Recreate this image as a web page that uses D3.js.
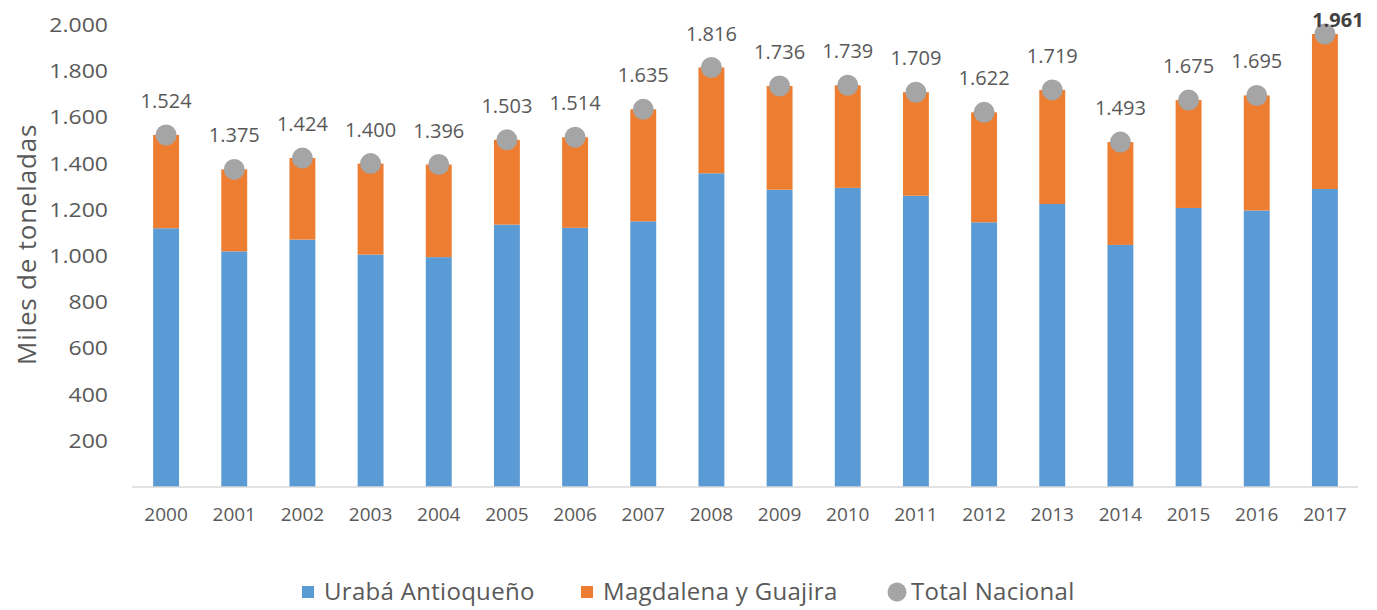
<!DOCTYPE html>
<html>
<head>
<meta charset="utf-8">
<script src="https://cdn.jsdelivr.net/npm/d3@7"></script>
<style>
  body { margin: 0; background: #fff; }
  svg { display: block; font-family: "Open Sans", "Noto Sans", sans-serif; }
  .tick-label { fill: #595959; font-size: 20px; }
  .value-label { font-size: 20px; }
</style>
</head>
<body>
<svg id="chart" width="1377" height="610"></svg>
<script>
const years = ["2000", "2001", "2002", "2003", "2004", "2005", "2006", "2007", "2008",
  "2009", "2010", "2011", "2012", "2013", "2014", "2015", "2016", "2017"];
// Urabá Antioqueño (miles de toneladas)
const uraba = [1120, 1020, 1071, 1006, 995, 1136, 1122, 1150, 1358,
  1287, 1295, 1261, 1146, 1225, 1048, 1208, 1197, 1290];
// Total Nacional, from the labels
const totals = [1524, 1375, 1424, 1400, 1396, 1503, 1514, 1635, 1816,
  1736, 1739, 1709, 1622, 1719, 1493, 1675, 1695, 1961];
// Magdalena y Guajira = rest of the total
const magdalena = totals.map((t, i) => t - uraba[i]);
const yTicks = [200, 400, 600, 800, 1000, 1200, 1400, 1600, 1800, 2000];
const highlightYear = "2017";

const COLORS = { uraba: "#5B9BD5", magdalena: "#ED7D31", total: "#A5A5A5" };

const svg = d3.select("#chart");

const x = d3
  .scaleBand()
  .domain(years)
  .range([132, 1359])
  .paddingInner(0.62)
  .paddingOuter(0.31);

const y = d3.scaleLinear().domain([0, 2000]).range([487, 25]);

const fmt = (v) => d3.format(",")(v).replace(/,/g, ".");

// y tick labels (no axis line, no gridlines); the source text is a bit wide
svg
  .append("g")
  .selectAll("text")
  .data(yTicks)
  .join("text")
  .attr("class", "tick-label")
  .attr("transform", (d) => `translate(108, ${y(d)}) scale(1.15, 1)`)
  .attr("dy", "0.35em")
  .attr("text-anchor", "end")
  .text(fmt);

svg
  .append("text")
  .attr("transform", `translate(36, ${y(1050)}) rotate(-90)`)
  .attr("text-anchor", "middle")
  .attr("fill", "#595959")
  .attr("font-size", 26)
  .attr("letter-spacing", 0.8)
  .text("Miles de toneladas");

const stackData = years.map((yr, i) => ({ year: yr, uraba: uraba[i], magdalena: magdalena[i] }));
const series = d3.stack().keys(["uraba", "magdalena"])(stackData);

svg
  .append("g")
  .selectAll("g")
  .data(series)
  .join("g")
  .attr("fill", (s) => COLORS[s.key])
  .selectAll("rect")
  .data((s) => s)
  .join("rect")
  .attr("x", (d) => x(d.data.year))
  .attr("width", x.bandwidth())
  .attr("y", (d) => y(d[1]))
  .attr("height", (d) => y(d[0]) - y(d[1]));

// x axis line + year labels
const xAxis = svg
  .append("g")
  .attr("transform", `translate(0, ${y(0)})`)
  .call(d3.axisBottom(x).tickSize(0).tickPadding(21));
xAxis.select(".domain").attr("stroke", "#D9D9D9").attr("stroke-width", 1.5).attr("d", "M132,0H1358");
xAxis
  .selectAll(".tick text")
  .attr("fill", "#595959")
  .attr("font-size", 19)
  .attr("font-family", "\"Open Sans\", sans-serif");

// total markers
svg
  .append("g")
  .selectAll("circle")
  .data(totals)
  .join("circle")
  .attr("cx", (d, i) => x(years[i]) + x.bandwidth() / 2)
  .attr("cy", (d) => y(d))
  .attr("r", 10.5)
  .attr("fill", COLORS.total);

// value labels; the last one was moved by hand in the source
svg
  .append("g")
  .selectAll("text")
  .data(totals)
  .join("text")
  .attr("class", "value-label")
  .attr("x", (d, i) => x(years[i]) + x.bandwidth() / 2 + (years[i] === highlightYear ? 13 : 0))
  .attr("y", (d, i) => (years[i] === highlightYear ? 20 : y(d) - 34))
  .attr("dy", "0.35em")
  .attr("text-anchor", "middle")
  .attr("font-weight", (d, i) => (years[i] === highlightYear ? 700 : 400))
  .attr("fill", (d, i) => (years[i] === highlightYear ? "#404040" : "#595959"))
  .text(fmt);

// legend
const legendItems = [
  { label: "Urabá Antioqueño", color: COLORS.uraba, shape: "rect", x: 302 },
  { label: "Magdalena y Guajira", color: COLORS.magdalena, shape: "rect", x: 581 },
  { label: "Total Nacional", color: COLORS.total, shape: "circle", x: 888 },
];

const legend = svg.append("g").attr("transform", "translate(0, 592)");
const item = legend
  .selectAll("g")
  .data(legendItems)
  .join("g")
  .attr("transform", (d) => `translate(${d.x}, 0)`);

item
  .filter((d) => d.shape === "rect")
  .append("rect")
  .attr("x", 0)
  .attr("y", -6)
  .attr("width", 12)
  .attr("height", 12)
  .attr("fill", (d) => d.color);

item
  .filter((d) => d.shape === "circle")
  .append("circle")
  .attr("cx", 9)
  .attr("cy", 0)
  .attr("r", 9.5)
  .attr("fill", (d) => d.color);

item
  .append("text")
  .attr("x", (d) => (d.shape === "circle" ? 23 : 22))
  .attr("y", 0)
  .attr("dy", "0.35em")
  .attr("fill", "#595959")
  .attr("font-size", 24)
  .attr("letter-spacing", 0.3)
  .text((d) => d.label);
</script>
</body>
</html>
